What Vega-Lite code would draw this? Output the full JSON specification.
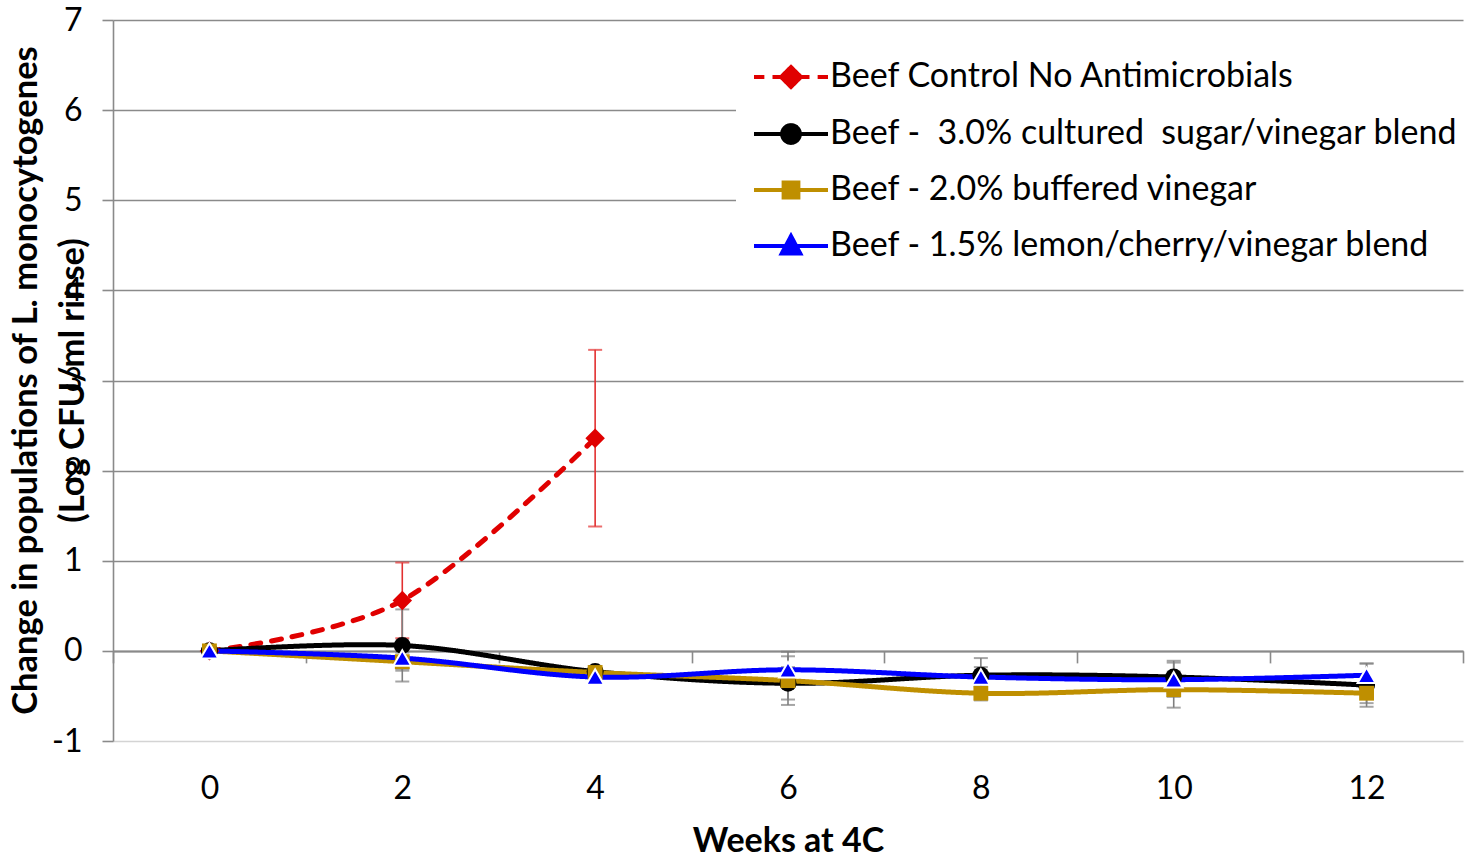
{
  "$schema": "https://vega.github.io/schema/vega-lite/v6.json",
  "width": 1350,
  "height": 721,
  "autosize": {"type": "none"},
  "padding": {"left": 113, "top": 20, "right": 9, "bottom": 118},
  "background": "white",
  "config": {
    "view": {"stroke": null},
    "font": "Lato",
    "axis": {"labelFont": "Lato", "titleFont": "Lato", "labelColor": "black", "titleColor": "black"}
  },
  "data": {
    "values": [
      {"week": 0, "series": "Beef Control No Antimicrobials", "value": 0, "lo": null, "hi": null},
      {"week": 2, "series": "Beef Control No Antimicrobials", "value": 0.56, "lo": 0.14, "hi": 0.98},
      {"week": 4, "series": "Beef Control No Antimicrobials", "value": 2.36, "lo": 1.38, "hi": 3.34},

      {"week": 0, "series": "Beef -\u00a0 3.0% cultured\u00a0 sugar/vinegar blend", "value": 0, "lo": null, "hi": null},
      {"week": 2, "series": "Beef -\u00a0 3.0% cultured\u00a0 sugar/vinegar blend", "value": 0.06, "lo": -0.34, "hi": 0.46},
      {"week": 4, "series": "Beef -\u00a0 3.0% cultured\u00a0 sugar/vinegar blend", "value": -0.23, "lo": -0.27, "hi": -0.19},
      {"week": 6, "series": "Beef -\u00a0 3.0% cultured\u00a0 sugar/vinegar blend", "value": -0.36, "lo": -0.54, "hi": -0.18},
      {"week": 8, "series": "Beef -\u00a0 3.0% cultured\u00a0 sugar/vinegar blend", "value": -0.27, "lo": -0.47, "hi": -0.08},
      {"week": 10, "series": "Beef -\u00a0 3.0% cultured\u00a0 sugar/vinegar blend", "value": -0.29, "lo": -0.47, "hi": -0.11},
      {"week": 12, "series": "Beef -\u00a0 3.0% cultured\u00a0 sugar/vinegar blend", "value": -0.38, "lo": -0.62, "hi": -0.14},

      {"week": 0, "series": "Beef - 2.0% buffered vinegar", "value": 0, "lo": null, "hi": null},
      {"week": 2, "series": "Beef - 2.0% buffered vinegar", "value": -0.12, "lo": -0.22, "hi": -0.02},
      {"week": 4, "series": "Beef - 2.0% buffered vinegar", "value": -0.24, "lo": -0.28, "hi": -0.2},
      {"week": 6, "series": "Beef - 2.0% buffered vinegar", "value": -0.33, "lo": -0.6, "hi": -0.06},
      {"week": 8, "series": "Beef - 2.0% buffered vinegar", "value": -0.47, "lo": -0.55, "hi": -0.39},
      {"week": 10, "series": "Beef - 2.0% buffered vinegar", "value": -0.43, "lo": -0.63, "hi": -0.23},
      {"week": 12, "series": "Beef - 2.0% buffered vinegar", "value": -0.47, "lo": -0.58, "hi": -0.36},

      {"week": 0, "series": "Beef - 1.5% lemon/cherry/vinegar blend", "value": 0, "lo": null, "hi": null},
      {"week": 2, "series": "Beef - 1.5% lemon/cherry/vinegar blend", "value": -0.08, "lo": -0.2, "hi": 0.04},
      {"week": 4, "series": "Beef - 1.5% lemon/cherry/vinegar blend", "value": -0.29, "lo": -0.33, "hi": -0.25},
      {"week": 6, "series": "Beef - 1.5% lemon/cherry/vinegar blend", "value": -0.21, "lo": -0.41, "hi": -0.01},
      {"week": 8, "series": "Beef - 1.5% lemon/cherry/vinegar blend", "value": -0.29, "lo": -0.4, "hi": -0.18},
      {"week": 10, "series": "Beef - 1.5% lemon/cherry/vinegar blend", "value": -0.32, "lo": -0.51, "hi": -0.13},
      {"week": 12, "series": "Beef - 1.5% lemon/cherry/vinegar blend", "value": -0.27, "lo": -0.4, "hi": -0.14}
    ]
  },
  "resolve": {"axis": {"x": "independent"}},
  "layer": [
    {
      "transform": [{"filter": "isValid(datum.lo)"}],
      "mark": {"type": "rule", "strokeWidth": 1.6},
      "encoding": {
        "x": {"field": "week", "type": "quantitative", "scale": {"domain": [-1, 13], "nice": false, "zero": false}, "axis": null},
        "y": {"field": "lo", "type": "quantitative"},
        "y2": {"field": "hi"},
        "color": {"condition": {"test": "indexof(datum.series, 'Control') >= 0", "value": "#e23030"}, "value": "#7f7f7f"}
      }
    },
    {
      "transform": [{"filter": "isValid(datum.lo)"}],
      "mark": {"type": "tick", "orient": "horizontal", "size": 14, "thickness": 2},
      "encoding": {
        "x": {"field": "week", "type": "quantitative", "axis": null},
        "y": {"field": "lo", "type": "quantitative"},
        "color": {"condition": {"test": "indexof(datum.series, 'Control') >= 0", "value": "#e23030"}, "value": "#7f7f7f"}
      }
    },
    {
      "transform": [{"filter": "isValid(datum.hi)"}],
      "mark": {"type": "tick", "orient": "horizontal", "size": 14, "thickness": 2},
      "encoding": {
        "x": {"field": "week", "type": "quantitative", "axis": null},
        "y": {"field": "hi", "type": "quantitative"},
        "color": {"condition": {"test": "indexof(datum.series, 'Control') >= 0", "value": "#e23030"}, "value": "#7f7f7f"}
      }
    },
    {
      "mark": {"type": "line", "interpolate": "cardinal", "strokeWidth": 5, "strokeCap": "round"},
      "encoding": {
        "x": {
          "field": "week", "type": "quantitative",
          "axis": {
            "orient": "bottom", "values": [0, 2, 4, 6, 8, 10, 12],
            "domain": false, "ticks": false, "grid": false,
            "labelFontSize": 32, "labelPadding": 32,
            "title": "Weeks at 4C", "titleFontSize": 34, "titleFontWeight": "bold", "titlePadding": 20
          }
        },
        "y": {
          "field": "value", "type": "quantitative",
          "scale": {"domain": [-1, 7], "nice": false, "zero": false},
          "axis": {
            "values": [-1, 0, 1, 2, 3, 4, 5, 6, 7],
            "labelExpr": "'' + datum.value",
            "grid": true,
            "gridColor": {"condition": {"test": "datum.value === -1", "value": "#d4d4d4"}, "value": "#8a8a8a"},
            "gridWidth": 1.6,
            "domainColor": "#8a8a8a", "domainWidth": 1.6,
            "tickColor": "#8a8a8a", "tickWidth": 1.6, "tickSize": 11,
            "labelFontSize": 32, "labelPadding": 20,
            "title": ["Change in populations of L. monocytogenes", "(Log CFU/ml rinse)"],
            "titleFontSize": 34.5, "titleFontWeight": "bold",
            "titleAngle": -90, "titleAlign": "center", "titleBaseline": "top",
            "titleX": -104, "titleY": 360, "titleLineHeight": 47
          }
        },
        "color": {
          "field": "series", "type": "nominal",
          "scale": {
            "domain": ["Beef Control No Antimicrobials", "Beef -\u00a0 3.0% cultured\u00a0 sugar/vinegar blend", "Beef - 2.0% buffered vinegar", "Beef - 1.5% lemon/cherry/vinegar blend"],
            "range": ["#e00000", "#000000", "#bf8f00", "#0000ff"]
          },
          "legend": {
            "orient": "none", "legendX": 623, "legendY": 2,
            "title": null, "padding": 16, "fillColor": "white", "strokeColor": null,
            "labelFont": "Lato", "labelFontSize": 34, "labelColor": "black", "labelLimit": 0,
            "labelOffset": 0, "rowPadding": -22,
            "symbolSize": 5476, "symbolStrokeWidth": 4, "symbolOpacity": 1,
            "encode": {
              "symbols": {
                "update": {
                  "shape": {"signal": "indexof(datum.value, 'Control') >= 0 ? 'M-1,0H-0.72M-0.5,0H0.5M0.72,0H1M0,-0.27L0.27,0L0,0.27L-0.27,0Z' : indexof(datum.value, 'cultured') >= 0 ? 'M-1,0H1M0.24,0A0.24,0.24 0 1,1 -0.24,0A0.24,0.24 0 1,1 0.24,0Z' : indexof(datum.value, 'buffered') >= 0 ? 'M-1,0H1M-0.2,-0.2H0.2V0.2H-0.2Z' : 'M-1,0H1M0,-0.27L0.25,0.2H-0.25Z'"},
                  "fill": {"scale": "color", "field": "value"},
                  "stroke": {"scale": "color", "field": "value"},
                  "size": {"value": 5476},
                  "strokeDash": {"value": [1, 0]},
                  "strokeWidth": {"value": 4},
                  "opacity": {"value": 1}
                }
              }
            }
          }
        },
        "strokeDash": {
          "condition": {"test": "indexof(datum.series, 'Control') >= 0", "value": [10, 11]},
          "value": [1, 0]
        }
      }
    },
    {
      "mark": {"type": "point", "filled": true, "opacity": 1},
      "encoding": {
        "x": {
          "field": "week", "type": "quantitative",
          "axis": {
            "orient": "bottom", "offset": -90.125,
            "values": [-1, 1, 3, 5, 7, 9, 11, 13],
            "labels": false, "grid": false, "title": null,
            "domainColor": "#8a8a8a", "domainWidth": 2,
            "tickColor": "#8a8a8a", "tickWidth": 1.6, "tickSize": 12
          }
        },
        "y": {"field": "value", "type": "quantitative"},
        "color": {"field": "series", "type": "nominal"},
        "shape": {
          "condition": [
            {"test": "indexof(datum.series, 'Control') >= 0", "value": "diamond"},
            {"test": "indexof(datum.series, 'cultured') >= 0", "value": "circle"},
            {"test": "indexof(datum.series, 'buffered') >= 0", "value": "square"}
          ],
          "value": "triangle-up"
        },
        "size": {
          "condition": [
            {"test": "indexof(datum.series, 'Control') >= 0", "value": 380},
            {"test": "indexof(datum.series, 'cultured') >= 0", "value": 290},
            {"test": "indexof(datum.series, 'buffered') >= 0", "value": 220}
          ],
          "value": 320
        },
        "stroke": {"condition": {"test": "indexof(datum.series, 'lemon') >= 0", "value": "white"}, "value": "transparent"},
        "strokeWidth": {"condition": {"test": "indexof(datum.series, 'lemon') >= 0", "value": 2}, "value": 0}
      }
    }
  ]
}
